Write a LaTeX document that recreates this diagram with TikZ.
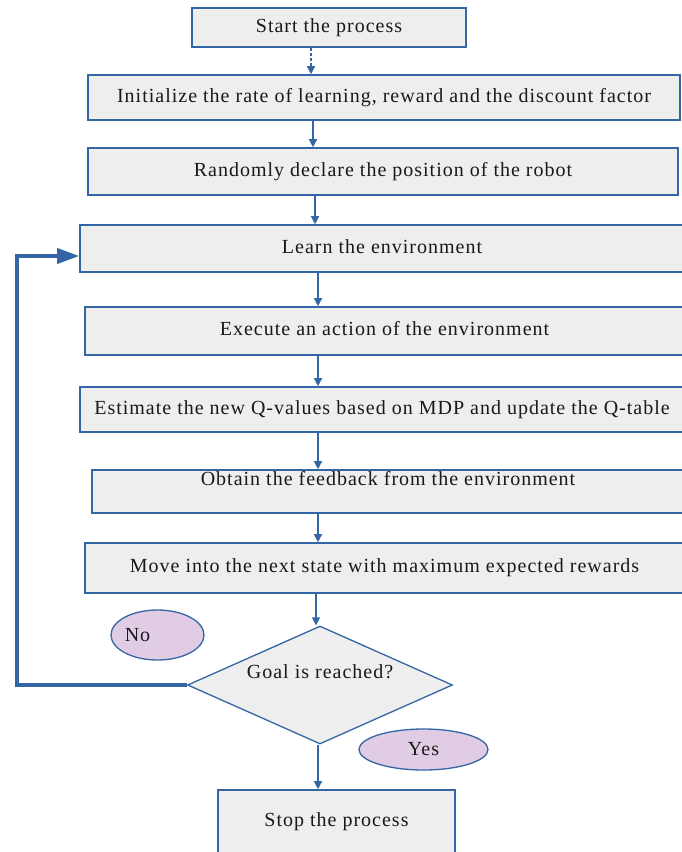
\documentclass[tikz,border=0pt]{standalone}
\usepackage{fontspec}
\setmainfont{Liberation Serif}[LetterSpace=5]
\usetikzlibrary{shapes.geometric,arrows.meta}
\definecolor{lineblue}{RGB}{52,101,164}
\definecolor{boxgray}{RGB}{238,238,238}
\definecolor{lilac}{RGB}{224,204,228}

\begin{document}
\begin{tikzpicture}[x=1pt, y=-1pt,
    txt/.style={text=black!90, font=\fontsize{20}{23}\selectfont},
    procbox/.style={txt, draw=lineblue, line width=1.6pt, fill=boxgray, inner sep=0pt, text height=13pt, text depth=4pt},
    answer/.style={txt, ellipse, draw=lineblue, line width=1.3pt, fill=lilac, inner sep=0pt},
    flowarrow/.style={draw=lineblue, line width=1.3pt, -{Triangle[length=8pt,width=8pt]}},
    backline/.style={draw=lineblue, line width=3.6pt, -{Triangle[length=22pt,width=15pt]}}]
    \useasboundingbox (0,0) rectangle (681,852);

    \node[procbox, minimum width=274pt, minimum height=39pt] (start) at (329,27.5) {Start the process};
    \node[procbox, minimum width=592pt, minimum height=45pt] (init) at (384,97.5) {Initialize the rate of learning, reward and the discount factor};
    \node[procbox, minimum width=590pt, minimum height=47pt] (rand) at (383,171.5) {Randomly declare the position of the robot};
    \node[procbox, minimum width=604pt, minimum height=47pt] (learn) at (382,248.5) {Learn the environment};
    \node[procbox, minimum width=599pt, minimum height=48pt] (exec) at (384.5,331) {Execute an action of the environment};
    \node[procbox, minimum width=604pt, minimum height=45pt] (est) at (382,409.5) {Estimate the new Q-values based on MDP and update the Q-table};
    \node[procbox, minimum width=592pt, minimum height=43pt, text depth=25pt] (obt) at (388,491.5) {Obtain the feedback from the environment};
    \node[procbox, minimum width=599pt, minimum height=50pt] (move) at (384.5,568) {Move into the next state with maximum expected rewards};
    \node[txt, diamond, draw=lineblue, line width=1.3pt, fill=boxgray, inner sep=0pt, aspect=2.25,
          minimum width=265pt, minimum height=118pt, text height=13pt, text depth=27pt] (goal) at (320,685) {Goal is reached?};
    \node[procbox, minimum width=237pt, minimum height=64pt] (stop) at (336.5,822) {Stop the process};
    \node[answer, minimum width=93pt, minimum height=50pt] (no) at (157.5,635) {No\hspace*{40pt}};
    \node[answer, minimum width=129pt, minimum height=41pt] (yes) at (423.5,749.5) {Yes};

    \coordinate (rail) at (17,0);

    \draw[flowarrow, densely dashed] (311,0 |- start.south) -- (311,0 |- init.north);
    \foreach \a/\b/\x in {init/rand/313, rand/learn/315, learn/exec/318, exec/est/318, est/obt/318, obt/move/318, move/goal/316, goal/stop/318}
      \draw[flowarrow] (\x,0 |- \a.south) -- (\x,0 |- \b.north);

    \draw[backline] (goal.west) -- (goal.west -| rail) |- ([yshift=-7.5pt]learn.west);
\end{tikzpicture}
\end{document}
